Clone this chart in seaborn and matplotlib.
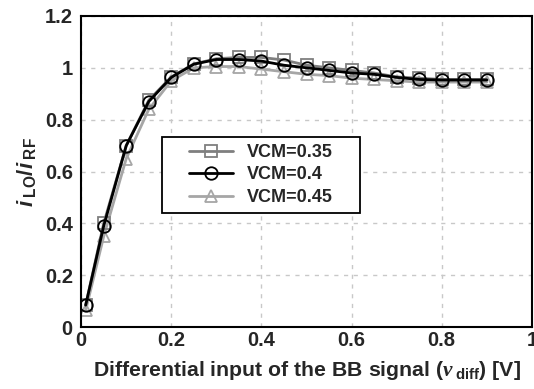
import matplotlib
matplotlib.use("Agg")
import matplotlib.pyplot as plt
from matplotlib.patches import Rectangle
import seaborn as sns
import pandas as pd

x_vals = [0.01, 0.05, 0.1, 0.15, 0.2, 0.25, 0.3, 0.35, 0.4, 0.45, 0.5,
          0.55, 0.6, 0.65, 0.7, 0.75, 0.8, 0.85, 0.9]
vcm_035 = [0.085, 0.40, 0.70, 0.875, 0.965, 1.015, 1.035, 1.04, 1.04, 1.03, 1.01,
           1.0, 0.99, 0.98, 0.965, 0.96, 0.955, 0.955, 0.955]
vcm_040 = [0.085, 0.39, 0.70, 0.87, 0.963, 1.014, 1.032, 1.032, 1.026, 1.01, 1.0,
           0.99, 0.98, 0.975, 0.963, 0.955, 0.953, 0.953, 0.953]
vcm_045 = [0.065, 0.35, 0.65, 0.84, 0.95, 1.0, 1.005, 1.005, 0.995, 0.985, 0.975,
           0.97, 0.96, 0.955, 0.95, 0.945, 0.945, 0.945, 0.945]
labels = ["VCM=0.35", "VCM=0.4", "VCM=0.45"]
x_ticks = [0, 0.2, 0.4, 0.6, 0.8, 1]
x_tick_labels = ["0", "0.2", "0.4", "0.6", "0.8", "1"]
y_ticks = [0, 0.2, 0.4, 0.6, 0.8, 1, 1.2]
y_tick_labels = ["0", "0.2", "0.4", "0.6", "0.8", "1", "1.2"]

sns.set_style("white")
plt.rcParams['font.family'] = ['Liberation Sans', 'DejaVu Sans']
plt.rcParams['font.weight'] = 'bold'
plt.rcParams['mathtext.fontset'] = 'custom'
plt.rcParams['mathtext.rm'] = 'Liberation Sans:bold'
plt.rcParams['mathtext.it'] = 'Liberation Sans:italic:bold'
plt.rcParams['mathtext.bf'] = 'Liberation Sans:bold'
plt.rcParams['mathtext.sf'] = 'Liberation Serif:italic:bold'

df = pd.DataFrame({
    "x": x_vals * 3,
    "y": vcm_035 + vcm_040 + vcm_045,
    "series": [labels[0]] * len(x_vals) + [labels[1]] * len(x_vals) + [labels[2]] * len(x_vals),
})

fig = plt.figure(figsize=(5.34, 3.89), dpi=100)
ax = fig.add_axes([0.152, 0.159, 0.844, 0.80])

styles = {
    labels[0]: dict(color="#7f7f7f", marker="s", ms=8, z=2),
    labels[2]: dict(color="#a6a6a6", marker="^", ms=9, z=1),
    labels[1]: dict(color="#000000", marker="o", ms=9, z=3),
}
for lab in [labels[2], labels[0], labels[1]]:
    st = styles[lab]
    sub = df[df["series"] == lab]
    sns.lineplot(data=sub, x="x", y="y", ax=ax, color=st["color"], lw=2,
                 marker=st["marker"], markersize=st["ms"], markerfacecolor="none",
                 markeredgecolor=st["color"], markeredgewidth=1.3, label=lab,
                 zorder=st["z"])

ax.set_xlim(0, 1)
ax.set_ylim(0, 1.2)
ax.set_xticks(x_ticks)
ax.set_xticklabels(x_tick_labels, fontsize=14.5, fontweight='bold')
ax.set_yticks(y_ticks)
ax.set_yticklabels(y_tick_labels, fontsize=14.5, fontweight='bold')
ax.tick_params(axis='y', length=0, pad=6)
ax.tick_params(axis='x', length=0, pad=3)
ax.grid(True, color="#c8c8c8", linestyle=(0, (3, 4)), linewidth=1)
for s in ax.spines.values():
    s.set_color("black")
    s.set_linewidth(1.5)

ax.set_xlabel(r"Differential input of the BB signal ($\mathsf{v}\,_{\mathrm{diff}}$) [V]",
              fontsize=15.3, fontweight='bold', labelpad=6)
ax.set_ylabel(r"$\mathit{i}\,_{\mathrm{LO}}/\mathit{i}\,_{\mathrm{RF}}$", fontsize=16, labelpad=4)

# legend frame
ax.add_patch(Rectangle((0.18, 0.367), 0.439, 0.244, transform=ax.transAxes,
                       facecolor="white", edgecolor="black", linewidth=1.3, zorder=4))
handles, labs = ax.get_legend_handles_labels()
order = [labs.index(l) for l in labels]
leg = ax.legend([handles[i] for i in order], [labs[i] for i in order],
                loc="center", bbox_to_anchor=(0.399, 0.489),
                frameon=False, handlelength=2.4, borderpad=0.2, labelspacing=0.3,
                handletextpad=0.8, prop={'weight': 'bold', 'size': 13})
leg.set_zorder(5)

fig.savefig("out.png", dpi=100)
